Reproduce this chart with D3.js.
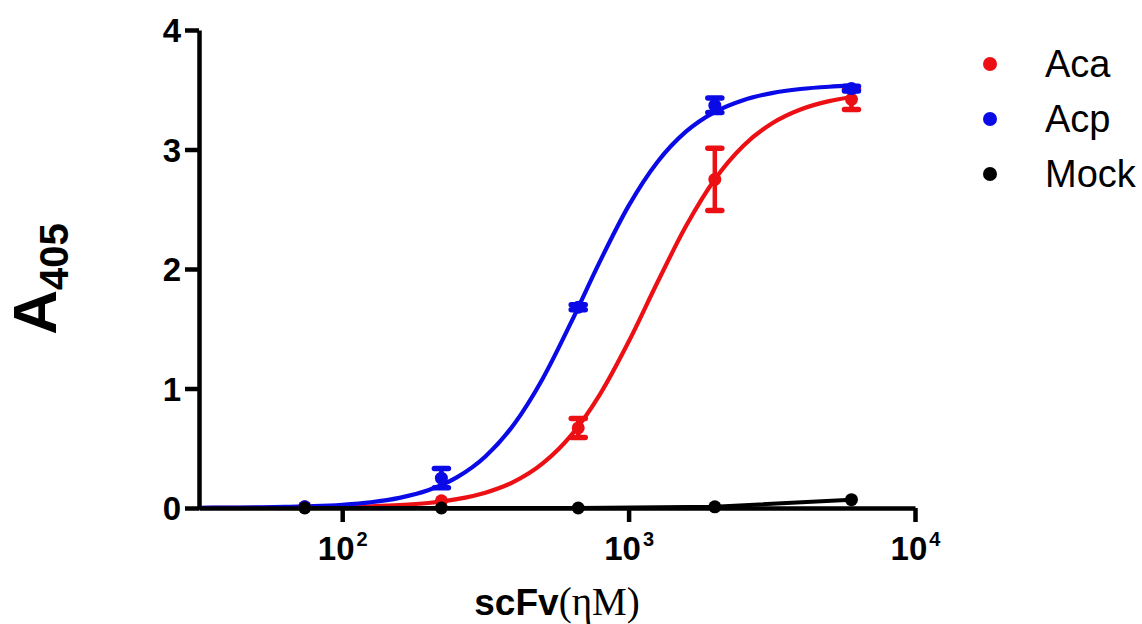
<!DOCTYPE html>
<html>
<head>
<meta charset="utf-8">
<script src="https://cdn.jsdelivr.net/npm/d3@7/dist/d3.min.js"></script>
<style>
    body { margin: 0; background: #fff; }
    text { font-family: "Liberation Sans", Arial, sans-serif; }
</style>
</head>
<body>
<svg id="chart" width="1142" height="624"></svg>
<script>
// dilution series (nM)
var conc = [74, 222, 667, 2000, 6000];

var acaMean = [0.01, 0.06, 0.67, 2.75, 3.42];
var acaErr  = [0.00, 0.00, 0.08, 0.26, 0.085];
var acpMean = [0.01, 0.25, 1.68, 3.37, 3.51];
var acpErr  = [0.00, 0.08, 0.02, 0.06, 0.02];
var mockMean = [0.00, 0.00, 0.00, 0.01, 0.07];

// fitted curves (log10 nM -> A405)
var fitLog = [1.5, 1.6, 1.7, 1.8, 1.9, 2.0, 2.1, 2.2, 2.3, 2.4, 2.5, 2.6, 2.7,
              2.8, 2.9, 3.0, 3.1, 3.2, 3.3, 3.4, 3.5, 3.6, 3.7, 3.78];
var acaFit = [0.000, 0.001, 0.001, 0.003, 0.004, 0.008, 0.014, 0.024, 0.042, 0.074,
              0.128, 0.220, 0.373, 0.610, 0.951, 1.391, 1.885, 2.357, 2.747, 3.030,
              3.218, 3.335, 3.405, 3.439];
var acpFit = [0.002, 0.003, 0.005, 0.009, 0.015, 0.027, 0.048, 0.085, 0.148, 0.256,
              0.431, 0.701, 1.082, 1.557, 2.064, 2.528, 2.893, 3.149, 3.313, 3.413,
              3.472, 3.506, 3.525, 3.534];

var yTicks = [0, 1, 2, 3, 4];
var xTicks = [100, 1000, 10000];
var legendNames = ["Aca", "Acp", "Mock"];
var colors = ["#ec0f14", "#0a0ae6", "#000000"];

var svg = d3.select("#chart");
var plotL = 199, plotR = 915, plotT = 30, plotB = 508;

var x = d3.scaleLog().domain([Math.pow(10, 1.5), 10000]).range([plotL, plotR]);
var y = d3.scaleLinear().domain([0, 4]).range([plotB, plotT]);

// curves
var fitLine = d3.line()
    .x(function (d) { return x(Math.pow(10, d[0])); })
    .y(function (d) { return y(d[1]); })
    .curve(d3.curveMonotoneX);

[acaFit, acpFit].forEach(function (fit, k) {
    svg.append("path")
        .datum(fitLog.map(function (l, i) { return [l, fit[i]]; }))
        .attr("fill", "none")
        .attr("stroke", colors[k])
        .attr("stroke-width", 4.2)
        .attr("d", fitLine);
});

// mock: straight segments
var mockLine = d3.line()
    .x(function (d, i) { return x(conc[i]); })
    .y(function (d) { return y(d); });
svg.append("path")
    .datum(mockMean)
    .attr("fill", "none")
    .attr("stroke", "#000")
    .attr("stroke-width", 4)
    .attr("d", mockLine);

// axes
var yAxis = svg.append("g")
    .attr("transform", "translate(" + plotL + ",0)")
    .call(d3.axisLeft(y).tickValues(yTicks).tickSize(14).tickSizeOuter(0).tickPadding(4).tickFormat(d3.format("d")));
var xAxis = svg.append("g")
    .attr("transform", "translate(0," + plotB + ")")
    .call(d3.axisBottom(x).tickValues(xTicks).tickSize(14).tickSizeOuter(0).tickFormat(function () { return ""; }));

[yAxis, xAxis].forEach(function (g) {
    g.select(".domain").attr("stroke", "#000").attr("stroke-width", 4.5);
    g.selectAll(".tick line").attr("stroke", "#000").attr("stroke-width", 4.5);
});
yAxis.selectAll(".tick text")
    .attr("font-size", 33)
    .attr("font-weight", "bold")
    .attr("fill", "#000")
    .attr("dy", "0.36em");

xAxis.selectAll(".tick").each(function (d) {
    var t = d3.select(this).append("text")
        .attr("y", 52)
        .attr("text-anchor", "middle")
        .attr("font-size", 33)
        .attr("font-weight", "bold")
        .attr("fill", "#000");
    t.append("tspan").text("10");
    t.append("tspan")
        .attr("font-size", 20)
        .attr("dy", -14)
        .attr("dx", 2)
        .text(Math.round(Math.log10(d)));
});

// error bars and points
[[acaMean, acaErr], [acpMean, acpErr]].forEach(function (s, k) {
    var g = svg.append("g").attr("stroke", colors[k]).attr("stroke-linecap", "round");
    s[0].forEach(function (m, i) {
        var e = s[1][i];
        if (e <= 0) return;
        var cx = x(conc[i]);
        g.append("line").attr("x1", cx).attr("x2", cx)
            .attr("y1", y(m - e)).attr("y2", y(m + e)).attr("stroke-width", 4.5);
        [m - e, m + e].forEach(function (v) {
            g.append("line").attr("x1", cx - 7).attr("x2", cx + 7)
                .attr("y1", y(v)).attr("y2", y(v)).attr("stroke-width", 5.5);
        });
    });
});

[acaMean, acpMean, mockMean].forEach(function (vals, k) {
    svg.append("g").selectAll("circle")
        .data(vals)
        .enter().append("circle")
        .attr("cx", function (d, i) { return x(conc[i]); })
        .attr("cy", function (d) { return y(d); })
        .attr("r", 6.5)
        .attr("fill", colors[k]);
});

// legend
var legend = svg.append("g").attr("transform", "translate(990,64)");
legendNames.forEach(function (name, i) {
    legend.append("circle").attr("cx", 0).attr("cy", i * 55).attr("r", 7).attr("fill", colors[i]);
    legend.append("text")
        .attr("x", 55).attr("y", i * 55 + 13)
        .attr("font-size", 38)
        .attr("fill", "#000")
        .text(name);
});

// axis titles
var yt = svg.append("text")
    .attr("transform", "translate(56,279) rotate(-90)")
    .attr("text-anchor", "middle")
    .attr("font-weight", "bold")
    .attr("fill", "#000");
yt.append("tspan").attr("font-size", 62).text("A");
yt.append("tspan").attr("font-size", 40).attr("dy", 12).text("405");

var xt = svg.append("text")
    .attr("x", 557).attr("y", 615)
    .attr("text-anchor", "middle")
    .attr("fill", "#000");
xt.append("tspan").attr("font-size", 37).attr("font-weight", "bold").text("scFv");
xt.append("tspan").attr("font-size", 39)
    .style("font-family", "'Liberation Serif', 'Times New Roman', serif")
    .text("(ηM)");
</script>
</body>
</html>
